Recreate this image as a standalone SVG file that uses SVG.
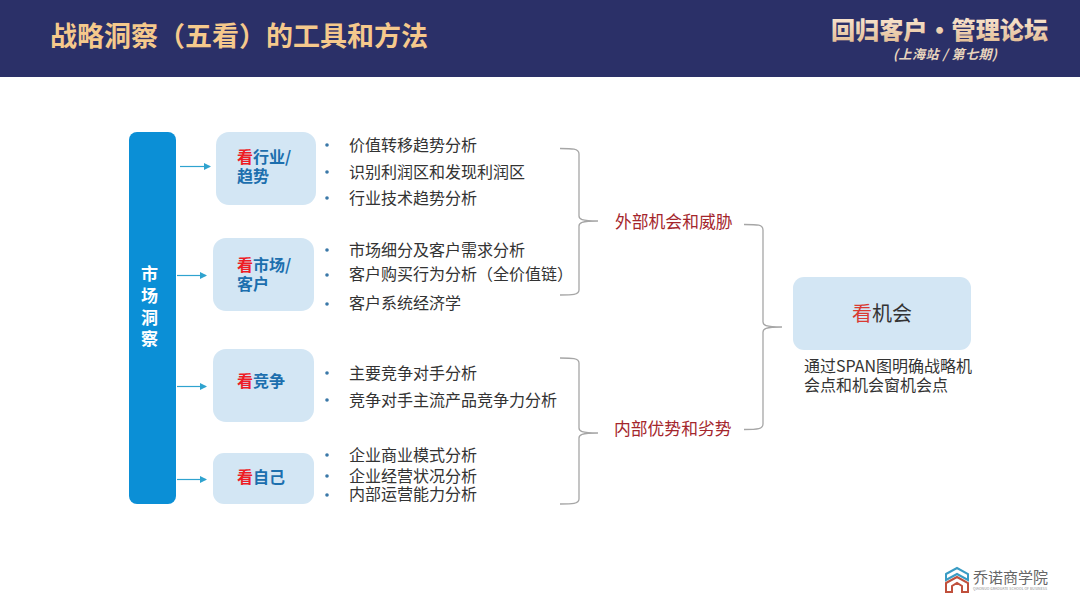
<svg xmlns="http://www.w3.org/2000/svg" width="1080" height="608" viewBox="0 0 1080 608">
<defs>
<linearGradient id="gold" x1="0" y1="0" x2="0" y2="1"><stop offset="0" stop-color="#fdeedd"/><stop offset="1" stop-color="#e0b98f"/></linearGradient>
<marker id="arr" markerWidth="7" markerHeight="7" refX="6" refY="3.5" orient="auto" markerUnits="userSpaceOnUse"><path d="M0,0L7,3.500L0,7z" fill="#2fa3cf"/></marker>
</defs>
<style>
text{font-family:"Noto Sans CJK SC","Liberation Sans",sans-serif}
.box{fill:#d3e6f4}
.lab{font-size:16px;font-weight:700;fill:#1c6fae}
.red{fill:#ee1c25}
.item{font-size:16px;fill:#333}
.dot{fill:#3a78a8}
.red2{font-size:16.800px;fill:#a4262c}
.br{fill:none;stroke:#a6a6a6;stroke-width:1.300}
.arw{fill:none;stroke:#2fa3cf;stroke-width:1.200;marker-end:url(#arr)}
</style>
<rect width="1080" height="608" fill="#fff"/>
<rect width="1080" height="77" fill="#2b3068"/>
<text x="50" y="46" font-size="27" font-weight="700" fill="#f5c98c">战略洞察（五看）的工具和方法</text>
<text x="831" y="39" font-size="24" font-weight="900" fill="url(#gold)" textLength="217" lengthAdjust="spacingAndGlyphs">回归客户·管理论坛</text>
<text x="893" y="59" font-size="13" font-weight="700" font-style="italic" fill="#e8d5bd" textLength="104" lengthAdjust="spacing">(上海站 / 第七期)</text>

<g id="connectors">
<path class="arw" d="M180,166.500H210"/>
<path class="arw" d="M177,275.500H206"/>
<path class="arw" d="M177,386.500H206"/>
<path class="arw" d="M177,479.500H206"/>
<path class="br" d="M560,148.500C572,148.500 579,148.500 579,154V216C579,219 581,221 598,221C581,221 579,223 579,226V290C579,295 572,295 560,295"/>
<path class="br" d="M560,358C572,358 579,358 579,363V428C579,431 581,433 598,433C581,433 579,435 579,438V499C579,504 572,504 560,504"/>
<path class="br" d="M744,224.500C758,224.500 763,224.500 763,230V322C763,325 765,327 782,327C765,327 763,329 763,332V424C763,429 758,429.500 744,429.500"/>
</g>

<g id="market"><rect x="129" y="132" width="47" height="372" rx="8" fill="#0b8fd6"/>
<g font-size="17" font-weight="700" fill="#fff" text-anchor="middle"><text x="149.500" y="280">市</text><text x="149.500" y="302">场</text><text x="149.500" y="324">洞</text><text x="149.500" y="345">察</text></g></g>

<g id="n1"><rect class="box" x="216" y="132" width="100" height="73" rx="13"/><text class="lab" x="237" y="163"><tspan class="red">看</tspan>行业/</text><text class="lab" x="237" y="182">趋势</text></g>
<g id="n2"><rect class="box" x="213" y="238" width="101" height="73" rx="13"/><text class="lab" x="237" y="271"><tspan class="red">看</tspan>市场/</text><text class="lab" x="237" y="290">客户</text></g>
<g id="n3"><rect class="box" x="213" y="349" width="101" height="73" rx="13"/><text class="lab" x="237" y="387"><tspan class="red">看</tspan>竞争</text></g>
<g id="n4"><rect class="box" x="213" y="453" width="101" height="51" rx="11"/><text class="lab" x="237" y="483"><tspan class="red">看</tspan>自己</text></g>

<g id="items">
<circle class="dot" cx="327" cy="145" r="1.800"/><text class="item" x="349" y="151">价值转移趋势分析</text>
<circle class="dot" cx="327" cy="172" r="1.800"/><text class="item" x="349" y="178">识别利润区和发现利润区</text>
<circle class="dot" cx="327" cy="198" r="1.800"/><text class="item" x="349" y="204">行业技术趋势分析</text>
<circle class="dot" cx="327" cy="250" r="1.800"/><text class="item" x="349" y="256">市场细分及客户需求分析</text>
<circle class="dot" cx="327" cy="275" r="1.800"/><text class="item" x="349" y="280">客户购买行为分析（全价值链）</text>
<circle class="dot" cx="327" cy="304" r="1.800"/><text class="item" x="349" y="309">客户系统经济学</text>
<circle class="dot" cx="327" cy="373" r="1.800"/><text class="item" x="349" y="379">主要竞争对手分析</text>
<circle class="dot" cx="327" cy="400" r="1.800"/><text class="item" x="349" y="406">竞争对手主流产品竞争力分析</text>
<circle class="dot" cx="327" cy="455" r="1.800"/><text class="item" x="349" y="461">企业商业模式分析</text>
<circle class="dot" cx="327" cy="476" r="1.800"/><text class="item" x="349" y="482">企业经营状况分析</text>
<circle class="dot" cx="327" cy="495" r="1.800"/><text class="item" x="349" y="500">内部运营能力分析</text>
</g>

<text class="red2" x="615" y="228">外部机会和威胁</text>
<text class="red2" x="614" y="435">内部优势和劣势</text>

<g id="n5"><rect class="box" x="793" y="277" width="178" height="73" rx="11"/><text x="852" y="321" font-size="20" fill="#333"><tspan fill="#d93a32">看</tspan>机会</text></g>
<text class="item" x="804" y="372">通过SPAN图明确战略机</text>
<text class="item" x="804" y="391">会点和机会窗机会点</text>

<g id="logo">
<path d="M946,574L957,568L968,574V580L957,574L946,580Z" fill="none" stroke="#3a9cc4" stroke-width="2"/>
<path d="M946,583L957,577L968,583V592H962V586L957,583L952,586V592H946Z" fill="none" stroke="#c0503c" stroke-width="2"/>
<text x="973" y="583" font-size="15" fill="#666">乔诺商学院</text>
<text x="973" y="590" font-size="3.500" fill="#888" textLength="74">QIAONUO GRADUATE SCHOOL OF BUSINESS</text>
</g>
</svg>
